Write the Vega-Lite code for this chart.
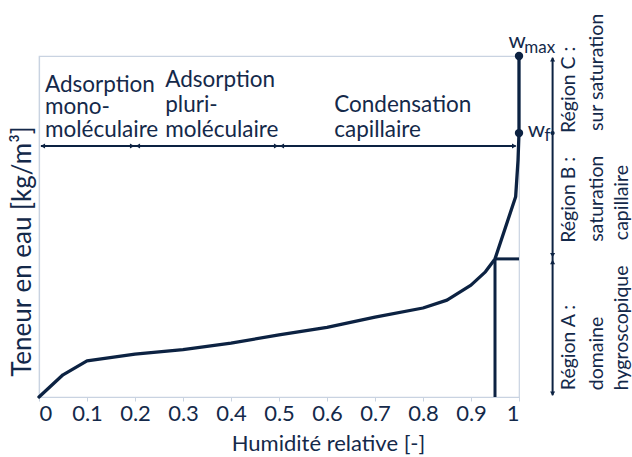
{
  "$schema": "https://vega.github.io/schema/vega-lite/v6.json",
  "width": 480,
  "height": 341,
  "autosize": {"type": "none"},
  "padding": {"left": 39, "top": 56, "right": 113, "bottom": 60},
  "background": "white",
  "config": {"view": {"stroke": "#c9d3e1", "strokeWidth": 1.2}, "font": "Lato"},
  "datasets": {
    "curve": [
      {"i": 0, "x": 0, "y": 0},
      {"i": 1, "x": 0.05, "y": 6.5},
      {"i": 2, "x": 0.1, "y": 10.6},
      {"i": 3, "x": 0.2, "y": 12.6},
      {"i": 4, "x": 0.3, "y": 13.9},
      {"i": 5, "x": 0.4, "y": 15.8},
      {"i": 6, "x": 0.5, "y": 18.2},
      {"i": 7, "x": 0.6, "y": 20.4},
      {"i": 8, "x": 0.7, "y": 23.4},
      {"i": 9, "x": 0.8, "y": 26.1},
      {"i": 10, "x": 0.85, "y": 28.4},
      {"i": 11, "x": 0.9, "y": 32.8},
      {"i": 12, "x": 0.93, "y": 36.7},
      {"i": 13, "x": 0.95, "y": 40.5},
      {"i": 14, "x": 0.993, "y": 58.7},
      {"i": 15, "x": 0.998, "y": 69.5},
      {"i": 16, "x": 1.0, "y": 77.4},
      {"i": 17, "x": 1.0, "y": 100}
    ],
    "limits": [
      {"x": 0.95, "x2": 0.95, "y": 0, "y2": 40.5},
      {"x": 0.95, "x2": 1.0, "y": 40.5, "y2": 40.5}
    ],
    "arrows": [
      {"x": 0.004, "x2": 0.993, "y": 73.6, "y2": 73.6},
      {"x": 1.07, "x2": 1.07, "y": 0.5, "y2": 99.5}
    ],
    "heads": [
      {"x": 0.008, "y": 73.6, "dir": "left"},
      {"x": 0.194, "y": 73.6, "dir": "right"},
      {"x": 0.206, "y": 73.6, "dir": "left"},
      {"x": 0.494, "y": 73.6, "dir": "right"},
      {"x": 0.506, "y": 73.6, "dir": "left"},
      {"x": 0.99, "y": 73.6, "dir": "right"},
      {"x": 1.07, "y": 99, "dir": "up"},
      {"x": 1.07, "y": 1, "dir": "down"},
      {"x": 1.07, "y": 41.6, "dir": "down"},
      {"x": 1.07, "y": 39.6, "dir": "up"}
    ],
    "ticks": [
      {"x": 1.07, "y": 77.4}
    ],
    "dots": [
      {"x": 1.0, "y": 100},
      {"x": 1.0, "y": 77.4}
    ],
    "notes": [
      {"label": "Adsorption", "x": 0.0125, "y": 89.4},
      {"label": "mono-", "x": 0.0125, "y": 83.0},
      {"label": "moléculaire", "x": 0.0125, "y": 76.2},
      {"label": "Adsorption", "x": 0.263, "y": 90.9},
      {"label": "pluri-", "x": 0.263, "y": 83.6},
      {"label": "moléculaire", "x": 0.263, "y": 76.2},
      {"label": "Condensation", "x": 0.615, "y": 83.6},
      {"label": "capillaire", "x": 0.615, "y": 76.2}
    ],
    "regions": [
      {"label": "Région C :", "x": 1.105, "y": 77.4},
      {"label": "sur saturation", "x": 1.162, "y": 78.0},
      {"label": "Région B :", "x": 1.105, "y": 45.2},
      {"label": "saturation", "x": 1.162, "y": 45.5},
      {"label": "capillaire", "x": 1.214, "y": 46.0},
      {"label": "Région A :", "x": 1.105, "y": 2.0},
      {"label": "domaine", "x": 1.162, "y": 2.0},
      {"label": "hygroscopique", "x": 1.214, "y": 2.0}
    ],
    "wlabels": [
      {"label": "w", "x": 0.978, "y": 102.3},
      {"label": "w", "x": 1.018, "y": 76.2}
    ],
    "subs": [
      {"label": "max", "x": 1.011, "y": 100.9},
      {"label": "f", "x": 1.053, "y": 75.1}
    ]
  },
  "layer": [
    {
      "data": {"name": "curve"},
      "mark": {"type": "line", "color": "#0c2242", "strokeWidth": 3.3, "strokeCap": "round", "strokeJoin": "round"},
      "encoding": {
        "x": {
          "field": "x", "type": "quantitative",
          "scale": {"domain": [0, 1], "nice": false, "zero": false},
          "axis": {
            "title": "Humidité relative [-]",
            "tickCount": 10, "format": "~g", "grid": false,
            "domainColor": "#c9d3e1", "domainWidth": 1.2,
            "tickColor": "#c9d3e1", "tickSize": 4,
            "labelFontSize": 22, "labelColor": "#14294a", "labelFont": "Lato",
            "labelBaseline": "alphabetic", "labelPadding": 19,
            "titleFontSize": 22, "titleFontWeight": "normal", "titleColor": "#14294a", "titleFont": "Lato",
            "titleX": 289, "titleY": 53, "titleAlign": "center", "titleBaseline": "alphabetic"
          }
        },
        "y": {
          "field": "y", "type": "quantitative",
          "scale": {"domain": [0, 100], "nice": false},
          "axis": {
            "title": "Teneur en eau [kg/m³]",
            "ticks": false, "labels": false, "grid": false,
            "domainColor": "#c9d3e1", "domainWidth": 1.2,
            "titleFontSize": 26, "titleFontWeight": "normal", "titleColor": "#14294a", "titleFont": "Lato",
            "titleAngle": 270, "titleX": -17, "titleY": 195, "titleAlign": "center", "titleBaseline": "middle"
          }
        },
        "order": {"field": "i", "type": "quantitative"}
      }
    },
    {
      "data": {"name": "limits"},
      "mark": {"type": "rule", "color": "#0c2242", "strokeWidth": 3},
      "encoding": {
        "x": {"field": "x", "type": "quantitative"},
        "x2": {"field": "x2"},
        "y": {"field": "y", "type": "quantitative"},
        "y2": {"field": "y2"}
      }
    },
    {
      "data": {"name": "arrows"},
      "mark": {"type": "rule", "color": "#0c2242", "strokeWidth": 2},
      "encoding": {
        "x": {"field": "x", "type": "quantitative"},
        "x2": {"field": "x2"},
        "y": {"field": "y", "type": "quantitative"},
        "y2": {"field": "y2"}
      }
    },
    {
      "data": {"name": "heads"},
      "mark": {"type": "point", "filled": true, "color": "#0c2242", "size": 26, "opacity": 1},
      "encoding": {
        "x": {"field": "x", "type": "quantitative"},
        "y": {"field": "y", "type": "quantitative"},
        "shape": {
          "field": "dir", "type": "nominal", "legend": null,
          "scale": {"domain": ["left", "right", "up", "down"], "range": ["triangle-left", "triangle-right", "triangle-up", "triangle-down"]}
        }
      }
    },
    {
      "data": {"name": "ticks"},
      "mark": {"type": "point", "filled": true, "color": "#0c2242", "size": 18, "shape": "circle", "opacity": 1},
      "encoding": {
        "x": {"field": "x", "type": "quantitative"},
        "y": {"field": "y", "type": "quantitative"}
      }
    },
    {
      "data": {"name": "dots"},
      "mark": {"type": "point", "filled": true, "color": "#0c2242", "size": 70, "shape": "circle", "opacity": 1},
      "encoding": {
        "x": {"field": "x", "type": "quantitative"},
        "y": {"field": "y", "type": "quantitative"}
      }
    },
    {
      "data": {"name": "notes"},
      "mark": {"type": "text", "align": "left", "baseline": "alphabetic", "fontSize": 22.5, "font": "Lato", "color": "#14294a"},
      "encoding": {
        "x": {"field": "x", "type": "quantitative"},
        "y": {"field": "y", "type": "quantitative"},
        "text": {"field": "label"}
      }
    },
    {
      "data": {"name": "regions"},
      "mark": {"type": "text", "align": "left", "baseline": "middle", "angle": 270, "fontSize": 19.5, "font": "Lato", "color": "#14294a"},
      "encoding": {
        "x": {"field": "x", "type": "quantitative"},
        "y": {"field": "y", "type": "quantitative"},
        "text": {"field": "label"}
      }
    },
    {
      "data": {"name": "wlabels"},
      "mark": {"type": "text", "align": "left", "baseline": "alphabetic", "fontSize": 22, "font": "Lato", "color": "#14294a"},
      "encoding": {
        "x": {"field": "x", "type": "quantitative"},
        "y": {"field": "y", "type": "quantitative"},
        "text": {"field": "label"}
      }
    },
    {
      "data": {"name": "subs"},
      "mark": {"type": "text", "align": "left", "baseline": "alphabetic", "fontSize": 17, "font": "Lato", "color": "#14294a"},
      "encoding": {
        "x": {"field": "x", "type": "quantitative"},
        "y": {"field": "y", "type": "quantitative"},
        "text": {"field": "label"}
      }
    }
  ]
}
